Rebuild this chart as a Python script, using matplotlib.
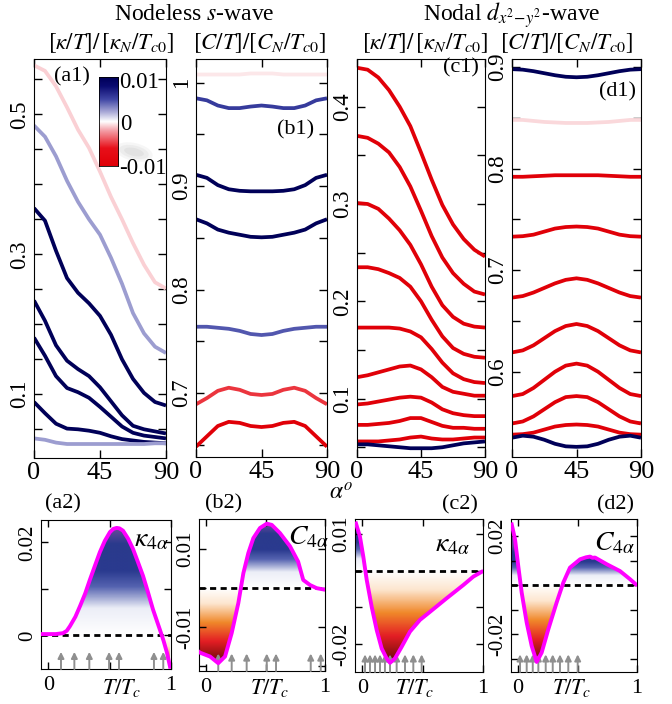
import numpy as np
import matplotlib
matplotlib.use('Agg')
import matplotlib.pyplot as plt
from matplotlib.colors import LinearSegmentedColormap
from matplotlib.patches import Ellipse

plt.rcParams['font.family'] = ['Liberation Serif', 'DejaVu Serif']
plt.rcParams['mathtext.fontset'] = 'stix'

# field angle (deg)
alpha = [0, 7.5, 15, 22.5, 30, 37.5, 45, 52.5, 60, 67.5, 75, 82.5, 90]

# (a1) s-wave kappa/T, top curve first
kappa_s = [
    [0.570, 0.562, 0.540, 0.510, 0.478, 0.452, 0.418, 0.382, 0.350, 0.316, 0.285, 0.260, 0.251],
    [0.484, 0.468, 0.440, 0.405, 0.375, 0.350, 0.328, 0.295, 0.258, 0.216, 0.187, 0.168, 0.159],
    [0.366, 0.348, 0.305, 0.266, 0.245, 0.230, 0.212, 0.185, 0.150, 0.122, 0.102, 0.089, 0.084],
    [0.234, 0.205, 0.170, 0.148, 0.136, 0.126, 0.110, 0.090, 0.070, 0.055, 0.050, 0.047, 0.044],
    [0.181, 0.155, 0.126, 0.109, 0.103, 0.095, 0.082, 0.068, 0.054, 0.045, 0.041, 0.039, 0.037],
    [0.089, 0.073, 0.058, 0.051, 0.050, 0.048, 0.045, 0.040, 0.036, 0.034, 0.032, 0.031, 0.030],
    [0.037, 0.035, 0.031, 0.029, 0.029, 0.029, 0.029, 0.029, 0.029, 0.029, 0.029, 0.030, 0.030],
]
kappa_s_amp = [-0.001, 0.0025, 0.01, 0.01, 0.01, 0.01, 0.0025]

# (b1) s-wave C/T
heat_s = [
    [1.008, 1.008, 1.008, 1.008, 1.008, 1.009, 1.009, 1.009, 1.008, 1.008, 1.008, 1.008, 1.008],
    [0.985, 0.983, 0.978, 0.9755, 0.9755, 0.977, 0.978, 0.977, 0.9755, 0.9755, 0.978, 0.983, 0.985],
    [0.911, 0.908, 0.901, 0.897, 0.8955, 0.895, 0.895, 0.895, 0.8955, 0.897, 0.901, 0.908, 0.911],
    [0.868, 0.864, 0.858, 0.855, 0.853, 0.851, 0.8505, 0.851, 0.853, 0.855, 0.858, 0.864, 0.868],
    [0.764, 0.764, 0.763, 0.762, 0.760, 0.757, 0.756, 0.757, 0.760, 0.762, 0.763, 0.764, 0.764],
    [0.689, 0.695, 0.702, 0.705, 0.703, 0.699, 0.698, 0.699, 0.703, 0.705, 0.702, 0.695, 0.689],
    [0.648, 0.658, 0.668, 0.672, 0.671, 0.668, 0.667, 0.668, 0.671, 0.672, 0.668, 0.658, 0.648],
]
heat_s_amp = [-0.0005, 0.0055, 0.01, 0.01, 0.0045, -0.005, -0.01]

# (c1) d-wave kappa/T
kappa_d = [
    [0.440, 0.438, 0.430, 0.417, 0.400, 0.380, 0.353, 0.325, 0.299, 0.279, 0.264, 0.253, 0.246],
    [0.370, 0.368, 0.362, 0.353, 0.338, 0.318, 0.293, 0.267, 0.245, 0.229, 0.218, 0.210, 0.207],
    [0.301, 0.300, 0.295, 0.285, 0.273, 0.258, 0.238, 0.215, 0.196, 0.184, 0.177, 0.174, 0.173],
    [0.235, 0.235, 0.233, 0.229, 0.224, 0.215, 0.200, 0.181, 0.164, 0.152, 0.146, 0.143, 0.142],
    [0.173, 0.173, 0.173, 0.173, 0.172, 0.169, 0.163, 0.151, 0.137, 0.126, 0.120, 0.117, 0.116],
    [0.122, 0.124, 0.127, 0.130, 0.133, 0.134, 0.130, 0.122, 0.112, 0.107, 0.105, 0.103, 0.103],
    [0.094, 0.095, 0.097, 0.099, 0.101, 0.102, 0.101, 0.096, 0.089, 0.085, 0.083, 0.082, 0.082],
    [0.073, 0.073, 0.074, 0.075, 0.077, 0.080, 0.080, 0.076, 0.072, 0.070, 0.070, 0.069, 0.069],
    [0.056, 0.056, 0.056, 0.057, 0.058, 0.060, 0.061, 0.059, 0.058, 0.058, 0.059, 0.060, 0.060],
    [0.053, 0.053, 0.052, 0.051, 0.050, 0.049, 0.049, 0.049, 0.050, 0.052, 0.054, 0.055, 0.056],
]
kappa_d_amp = [-0.01] * 9 + [0.01]

# (d1) d-wave C/T
heat_d = [
    [0.898, 0.8975, 0.896, 0.894, 0.892, 0.8905, 0.890, 0.8905, 0.892, 0.894, 0.896, 0.8975, 0.898],
    [0.848, 0.848, 0.847, 0.846, 0.8455, 0.845, 0.845, 0.845, 0.8455, 0.846, 0.847, 0.848, 0.848],
    [0.792, 0.792, 0.7925, 0.793, 0.7935, 0.7935, 0.7935, 0.7935, 0.7935, 0.793, 0.7925, 0.792, 0.792],
    [0.733, 0.7335, 0.735, 0.738, 0.741, 0.7425, 0.743, 0.7425, 0.741, 0.738, 0.735, 0.7335, 0.733],
    [0.673, 0.6745, 0.678, 0.6825, 0.687, 0.6905, 0.692, 0.6905, 0.687, 0.6825, 0.678, 0.6745, 0.673],
    [0.619, 0.621, 0.626, 0.633, 0.640, 0.645, 0.647, 0.645, 0.640, 0.633, 0.626, 0.621, 0.619],
    [0.576, 0.578, 0.584, 0.592, 0.600, 0.606, 0.608, 0.606, 0.600, 0.592, 0.584, 0.578, 0.576],
    [0.549, 0.551, 0.556, 0.563, 0.570, 0.575, 0.576, 0.575, 0.570, 0.563, 0.556, 0.551, 0.549],
    [0.538, 0.5385, 0.540, 0.543, 0.546, 0.5475, 0.548, 0.5475, 0.546, 0.543, 0.540, 0.5385, 0.538],
    [0.535, 0.537, 0.536, 0.533, 0.529, 0.5265, 0.526, 0.5265, 0.529, 0.533, 0.536, 0.537, 0.535],
]
heat_d_amp = [0.01, -0.0008] + [-0.01] * 7 + [0.01]

# bottom row: fourfold amplitudes vs T/Tc
T_a2 = [-0.06, 0.0, 0.06, 0.12, 0.15, 0.176, 0.22, 0.258, 0.30, 0.339, 0.38, 0.42, 0.46, 0.502,
        0.53, 0.557, 0.58, 0.609, 0.65, 0.69, 0.73, 0.772, 0.81, 0.853, 0.91, 0.94, 0.967, 0.992]
k4_a2 = [0.0003, 0.0003, 0.0003, 0.0005, 0.001, 0.002, 0.004, 0.0063, 0.009, 0.012, 0.015, 0.0179, 0.0203, 0.0222,
         0.0229, 0.0231, 0.0230, 0.0225, 0.0208, 0.0186, 0.0158, 0.0128, 0.0095, 0.0056, 0.0012, -0.0012, -0.0037, -0.0067]
arrows_a2 = [0.103, 0.212, 0.334, 0.495, 0.576, 0.861, 0.937]

T_b2 = [-0.06, -0.052, 0.033, 0.102, 0.159, 0.215, 0.271, 0.313, 0.355, 0.397,
        0.453, 0.51, 0.552, 0.621, 0.706, 0.774, 0.817, 0.874, 0.93, 1.0]
c4_b2 = [-0.0163, -0.0165, -0.0175, -0.0192, -0.0175, -0.0115, -0.0038, 0.0038, 0.009, 0.0128,
         0.0154, 0.0165, 0.0162, 0.0141, 0.0107, 0.0068, 0.0021, 0.0008, 0.0, -0.0004]
arrows_b2 = [0.102, 0.215, 0.341, 0.51, 0.588, 0.88, 0.964]

T_c2 = [-0.052, -0.019, 0.009, 0.037, 0.078, 0.12, 0.161, 0.202, 0.23, 0.271,
        0.327, 0.395, 0.478, 0.561, 0.699, 0.837, 0.92, 0.989]
k4_c2 = [0.0129, 0.0093, 0.0038, -0.0025, -0.0098, -0.0162, -0.0212, -0.0239, -0.0251, -0.0239,
         -0.0207, -0.0166, -0.0134, -0.0112, -0.0075, -0.0039, -0.0016, -0.0003]
arrows_c2 = [0.023, 0.064, 0.106, 0.147, 0.188, 0.23, 0.285, 0.354, 0.423, 0.492]

T_d2 = [-0.054, -0.026, 0.001, 0.03, 0.072, 0.114, 0.156, 0.198, 0.254, 0.324, 0.38,
        0.436, 0.521, 0.571, 0.605, 0.625, 0.647, 0.745, 0.857, 0.941, 0.99]
c4_d2 = [0.0247, 0.0186, 0.0078, -0.0031, -0.0153, -0.0248, -0.0313, -0.0275, -0.018, -0.0071, 0.001,
         0.0071, 0.0105, 0.0113, 0.0116, 0.0111, 0.0112, 0.0085, 0.0057, 0.0024, 0.0003]
arrows_d2 = [0.016, 0.072, 0.123, 0.17, 0.232, 0.291, 0.352, 0.422, 0.501]

line_cmap = LinearSegmentedColormap.from_list('line', [
    (0, '#e00008'), (0.2, '#e8101a'), (0.4, '#f4a0a8'), (0.5, '#ffffff'),
    (0.6, '#b0b0da'), (0.75, '#4046a5'), (0.9, '#0a0a70'), (1, '#000058')])
pos_cmap = LinearSegmentedColormap.from_list('pos', [
    (0, '#ffffff'), (0.25, '#eceef7'), (0.45, '#5563b0'), (0.6, '#2a3a8f'),
    (0.85, '#2a3a8c'), (1, '#6a4a9a')])
neg_cmap = LinearSegmentedColormap.from_list('neg', [
    (0, '#ffffff'), (0.2, '#fde6cf'), (0.45, '#f0882a'), (0.7, '#e31e24'),
    (0.9, '#8a1010'), (1, '#4a0606')])

W, H = 672, 704
fig = plt.figure(figsize=(W / 100, H / 100), dpi=100)


def box(x0, y0, x1, y1):
    return fig.add_axes([x0 / W, 1 - y1 / H, (x1 - x0) / W, (y1 - y0) / H])


def ftext(x, y, s, **kw):
    kw.setdefault('ha', 'center')
    kw.setdefault('va', 'center')
    fig.text(x / W, 1 - y / H, s, **kw)


def top_panel(ax, curves, amps, ylim, yticks, ylabels):
    for y, a in zip(curves, amps):
        ax.plot(alpha, y, color=line_cmap((a + 0.01) / 0.02), lw=2.7,
                solid_capstyle='butt', solid_joinstyle='round')
    ax.set_xlim(0, 90)
    ax.set_ylim(ylim)
    ax.set_xticks([0, 45, 90], ['0', '45', '90'], fontsize=19)
    ax.set_yticks(yticks, ylabels, fontsize=16.5, rotation=90, va='center')
    ax.tick_params(direction='in', top=True, right=True, length=6, width=1)
    ax.tick_params(axis='x', pad=3)
    ax.tick_params(axis='y', pad=3)


def bottom_panel(ax, t, v, arrows, ylim, yticks, ylabels, pos_scale, neg_scale):
    ax.set_xlim(-0.06, 1.0)
    ax.set_ylim(ylim)
    fb = ax.fill_between(t, v, 0, facecolor='none', edgecolor='none')
    ys = np.linspace(ylim[0], ylim[1], 400)
    rgba = np.where((ys > 0)[:, None],
                    pos_cmap(np.clip(ys / pos_scale, 0, 1)),
                    neg_cmap(np.clip(ys / neg_scale, 0, 1)))
    im = ax.imshow(rgba[:, None, :], extent=[-0.06, 1.0, ylim[0], ylim[1]], origin='lower',
                   aspect='auto', interpolation='bilinear', zorder=1)
    im.set_clip_path(fb.get_paths()[0], ax.transData)
    ax.axhline(0, color='black', lw=2, ls=(0, (2.2, 1.6)), zorder=2.5)
    for a in arrows:
        ax.annotate('', xy=(a, 0.115), xycoords=('data', 'axes fraction'),
                    xytext=(a, 0.0), textcoords=('data', 'axes fraction'),
                    arrowprops=dict(arrowstyle='-|>', color='#8f8f8f', lw=1.4,
                                    shrinkA=0, shrinkB=0, mutation_scale=9), zorder=3)
    ax.plot(t, v, color='#ff00ff', lw=2.8, zorder=4, solid_joinstyle='round')
    ax.set_xlim(-0.06, 1.0)
    ax.set_ylim(ylim)
    ax.set_xticks([0, 0.5, 1], ['0', '', '1'], fontsize=16)
    ax.set_yticks(yticks, ylabels, fontsize=15, rotation=90, va='center')
    ax.tick_params(direction='in', top=True, right=True, length=5, width=1)
    ax.tick_params(axis='x', pad=5)
    ax.tick_params(axis='y', pad=3)


ax_a1 = box(34, 59, 166, 458)
top_panel(ax_a1, kappa_s, kappa_s_amp, (0.009, 0.579),
          [0.05, 0.1, 0.15, 0.2, 0.25, 0.3, 0.35, 0.4, 0.45, 0.5, 0.55],
          ['', '0.1', '', '', '', '0.3', '', '', '', '0.5', ''])
ax_b1 = box(196, 59, 327, 457)
top_panel(ax_b1, heat_s, heat_s_amp, (0.638, 1.023),
          [0.65, 0.7, 0.75, 0.8, 0.85, 0.9, 0.95, 1.0],
          ['', '0.7', '', '0.8', '', '0.9', '', '1'])
ax_c1 = box(357, 59, 485, 457)
top_panel(ax_c1, kappa_d, kappa_d_amp, (0.040, 0.449),
          [0.05, 0.1, 0.15, 0.2, 0.25, 0.3, 0.35, 0.4],
          ['', '0.1', '', '0.2', '', '0.3', '', '0.4'])
ax_d1 = box(512, 59, 641, 457)
top_panel(ax_d1, heat_d, heat_d_amp, (0.516, 0.908),
          [0.55, 0.6, 0.65, 0.7, 0.75, 0.8, 0.85, 0.9],
          ['', '0.6', '', '0.7', '', '0.8', '', '0.9'])

ax_a2 = box(41, 520, 171, 669)
bottom_panel(ax_a2, T_a2, k4_a2, arrows_a2, (-0.0072, 0.0248),
             [0, 0.01, 0.02], ['0', '', '0.02'], 0.023, -0.012)
ax_b2 = box(199, 519, 325, 671)
bottom_panel(ax_b2, T_b2, c4_b2, arrows_b2, (-0.0212, 0.0177),
             [-0.02, -0.01, 0, 0.01], ['', '-0.01', '', '0.01'], 0.0165, -0.0195)
ax_c2 = box(355, 519, 483, 672)
bottom_panel(ax_c2, T_c2, k4_c2, arrows_c2, (-0.0276, 0.0141),
             [-0.02, -0.01, 0, 0.01], ['-0.02', '', '', '0.01'], 0.013, -0.0255)
ax_d2 = box(511, 519, 637, 672)
bottom_panel(ax_d2, T_d2, c4_d2, arrows_d2, (-0.0354, 0.0269),
             [-0.03, -0.02, -0.01, 0, 0.01, 0.02], ['', '-0.02', '', '', '', '0.02'], 0.016, -0.032)

# colour bar inside (a1)
cax = box(99, 77, 118, 166)
cax.imshow(np.linspace(-0.01, 0.01, 256).reshape(-1, 1), cmap=line_cmap, origin='lower',
           aspect='auto', extent=[0, 1, -0.01, 0.01])
cax.set_xticks([])
cax.set_yticks([])
for s in cax.spines.values():
    s.set_linewidth(0.6)
ftext(119, 83, '0.01', ha='left', fontsize=16.5)
ftext(120, 124, '0', ha='left', fontsize=16.5)
ftext(119, 168, '-0.01', ha='left', fontsize=16.5)
for w, h, a in [(38, 18, 0.06), (30, 13, 0.07), (20, 8, 0.08)]:
    fig.add_artist(Ellipse((134 / W, 1 - 152 / H), w / W, h / H, angle=-12,
                           transform=fig.transFigure, color='#707070', alpha=a, lw=0))

# headings
ftext(194, 15, r'Nodeless $s$-wave', fontsize=17)
ftext(512, 15, r'Nodal $d_{x^2\!-\!y^2}$-wave', fontsize=17)
ftext(111, 43, r'$[\kappa/T]/\,[\kappa_N/T_{c0}]$', fontsize=16.5)
ftext(260, 43, r'$[C/T]/[C_N/T_{c0}]$', fontsize=16.5)
ftext(425, 43, r'$[\kappa/T]/\,[\kappa_N/T_{c0}]$', fontsize=16.5)
ftext(567, 43, r'$[C/T]/[C_N/T_{c0}]$', fontsize=16.5)

# panel labels
for x, y, s in [(72, 77, '(a1)'), (296, 130, '(b1)'), (461, 68, '(c1)'), (617, 92, '(d1)'),
                (63, 504, '(a2)'), (224, 504, '(b2)'), (460, 505, '(c2)'), (616, 505, '(d2)')]:
    ftext(x, y, s, fontsize=16)
for x, y, s in [(151, 540, r'$\kappa_{4\alpha}$'), (308, 538, r'$C_{4\alpha}$'),
                (452, 545, r'$\kappa_{4\alpha}$'), (614, 544, r'$C_{4\alpha}$')]:
    ftext(x, y, s, fontsize=20)
ftext(341, 494, r'$\alpha^o$', fontsize=17)
for x in [122, 270, 415, 572]:
    ftext(x, 688, r'$T/T_c$', fontsize=16)

fig.savefig('out.png', dpi=100)
